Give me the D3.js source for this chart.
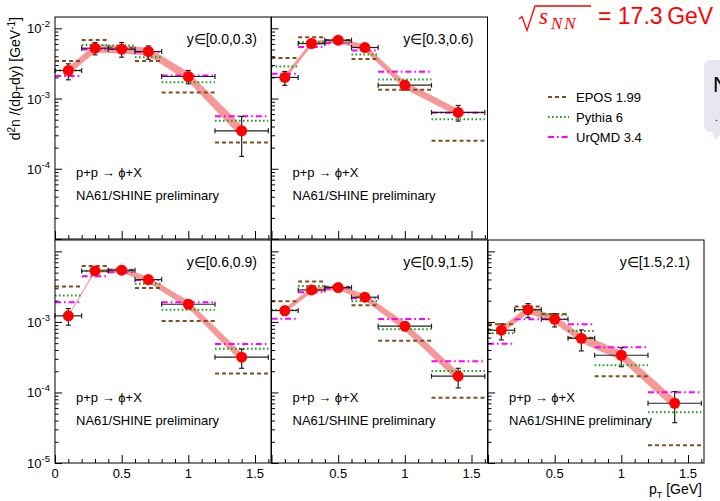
<!DOCTYPE html>
<html>
<head>
<meta charset="utf-8">
<script src="https://cdn.jsdelivr.net/npm/d3@7"></script>
<style>
body { margin: 0; background: #fff; }
text { font-family: "Liberation Sans", Arial, sans-serif; }
</style>
</head>
<body>
<svg id="chart" width="720" height="501"></svg>
<script>
// pT bins (GeV)
const ptCenters = [0.1, 0.3, 0.5, 0.7, 1.0, 1.4];
const binLow = [0.0, 0.2, 0.4, 0.6, 0.8, 1.2];
const binHigh = [0.2, 0.4, 0.6, 0.8, 1.2, 1.6];
const rapidityBins = ["y\u2208[0.0,0.3)", "y\u2208[0.3,0.6)", "y\u2208[0.6,0.9)", "y\u2208[0.9,1.5)", "y\u2208[1.5,2.1)"];

// NA61/SHINE points, one row per rapidity bin
const na61 = [
    [2.51e-3, 5.21e-3, 5.04e-3, 4.68e-3, 2.06e-3, 3.47e-4],
    [2.00e-3, 6.08e-3, 6.77e-3, 5.33e-3, 1.55e-3, 6.34e-4],
    [1.22e-3, 5.28e-3, 5.41e-3, 3.98e-3, 1.78e-3, 3.16e-4],
    [1.45e-3, 2.84e-3, 3.07e-3, 2.24e-3, 8.69e-4, 1.70e-4],
    [7.63e-4, 1.49e-3, 1.09e-3, 5.87e-4, 3.37e-4, 7.03e-5]
];
const na61Up = [
    [3.12e-3, 6.28e-3, 6.28e-3, 5.62e-3, 2.51e-3, 5.56e-4],
    [2.43e-3, 6.60e-3, 7.20e-3, 6.00e-3, 1.81e-3, 7.98e-4],
    [1.55e-3, 5.78e-3, 5.86e-3, 4.45e-3, 2.03e-3, 4.14e-4],
    [1.65e-3, 3.17e-3, 3.40e-3, 2.52e-3, 9.91e-4, 2.20e-4],
    [9.37e-4, 1.82e-3, 1.31e-3, 7.70e-4, 4.32e-4, 1.03e-4]
];
const na61Down = [
    [1.85e-3, 4.19e-3, 3.88e-3, 3.63e-3, 1.62e-3, 1.50e-4],
    [1.54e-3, 5.50e-3, 6.30e-3, 4.72e-3, 1.33e-3, 4.77e-4],
    [8.98e-4, 4.80e-3, 4.90e-3, 3.49e-3, 1.56e-3, 2.20e-4],
    [1.23e-3, 2.58e-3, 2.75e-3, 1.97e-3, 7.53e-4, 1.16e-4],
    [5.56e-4, 1.15e-3, 8.49e-4, 3.88e-4, 2.32e-4, 3.73e-5]
];
// relative systematic uncertainty (band)
const na61Sys = [
    [0.12, 0.13, 0.13, 0.13, 0.16, 0.20],
    [0.08, 0.08, 0.08, 0.10, 0.12, 0.12],
    [0.03, 0.04, 0.08, 0.10, 0.12, 0.15],
    [0.08, 0.08, 0.08, 0.10, 0.14, 0.16],
    [0.10, 0.12, 0.12, 0.14, 0.16, 0.18]
];

// model predictions per pT bin
const epos = [
    [3.44e-3, 6.84e-3, 5.30e-3, 3.44e-3, 1.22e-3, 2.37e-4],
    [3.79e-3, 7.47e-3, 6.84e-3, 3.67e-3, 1.33e-3, 2.50e-4],
    [3.17e-3, 6.22e-3, 5.50e-3, 3.03e-3, 1.03e-3, 1.85e-4],
    [1.97e-3, 3.73e-3, 3.15e-3, 1.73e-3, 5.43e-4, 8.44e-5],
    [9.27e-4, 1.65e-3, 1.30e-3, 5.98e-4, 1.70e-4, 1.78e-5]
];
const pythia = [
    [2.51e-3, 5.81e-3, 5.69e-3, 3.88e-3, 1.70e-3, 4.82e-4],
    [2.86e-3, 6.41e-3, 6.35e-3, 4.24e-3, 1.87e-3, 5.09e-4],
    [2.36e-3, 5.24e-3, 5.24e-3, 3.49e-3, 1.49e-3, 4.18e-4],
    [1.48e-3, 3.24e-3, 3.03e-3, 1.97e-3, 7.88e-4, 2.02e-4],
    [6.92e-4, 1.49e-3, 1.26e-3, 7.45e-4, 2.43e-4, 5.24e-5]
];
const urqmd = [
    [2.10e-3, 5.00e-3, 5.10e-3, 4.60e-3, 2.13e-3, 5.62e-4],
    [2.25e-3, 5.44e-3, 6.14e-3, 4.83e-3, 2.40e-3, 6.27e-4],
    [1.90e-3, 4.45e-3, 5.07e-3, 3.94e-3, 1.90e-3, 4.88e-4],
    [1.11e-3, 2.64e-3, 2.98e-3, 2.17e-3, 1.10e-3, 2.77e-4],
    [4.92e-4, 1.09e-3, 1.09e-3, 9.27e-4, 4.38e-4, 1.01e-4]
];

const models = [
    { name: "EPOS 1.99", values: epos, color: "#7f4f1f", dash: "4,3" },
    { name: "Pythia 6", values: pythia, color: "#1e9e1e", dash: "1.6,2.4" },
    { name: "UrQMD 3.4", values: urqmd, color: "#ff00ff", dash: "6,3,1.6,3" }
];

const yMajor = [1e-5, 1e-4, 1e-3, 1e-2];
const xMajor = [0, 0.5, 1, 1.5];

// layout
const panelW = 216;
const panels = [
    { x: 55, y: 17, h: 222, yLabels: [1e-4, 1e-3, 1e-2], xLabels: [] },
    { x: 271.5, y: 17, h: 222, yLabels: [], xLabels: [] },
    { x: 55, y: 240, h: 223, yLabels: [1e-5, 1e-4, 1e-3], xLabels: [0, 0.5, 1, 1.5] },
    { x: 271.5, y: 240, h: 223, yLabels: [], xLabels: [0.5, 1, 1.5] },
    { x: 488, y: 240, h: 223, yLabels: [], xLabels: [0.5, 1, 1.5] }
];

const svg = d3.select("#chart");

panels.forEach(function (p, i) {
    const g = svg.append("g").attr("transform", `translate(${p.x},${p.y})`);

    const x = d3.scaleLinear().domain([0, 1.62]).range([0, panelW]);
    const y = d3.scaleLog().domain([1e-5, 1.45e-2]).range([p.h, 0]);

    // systematic band
    const pts = ptCenters.map(function (pt, k) {
        return { pt: pt, v: na61[i][k], s: na61Sys[i][k] };
    });
    g.append("path")
        .datum(pts)
        .attr("fill", "#f59898")
        .attr("d", d3.area()
            .x(function (d) { return x(d.pt); })
            .y0(function (d) { return y(d.v * (1 - d.s)); })
            .y1(function (d) { return y(d.v * (1 + d.s)); }));

    // model histograms
    models.forEach(function (m) {
        g.selectAll(null)
            .data(m.values[i])
            .enter().append("line")
            .attr("x1", function (d, k) { return x(binLow[k]); })
            .attr("x2", function (d, k) { return x(binHigh[k]); })
            .attr("y1", function (d) { return y(d); })
            .attr("y2", function (d) { return y(d); })
            .attr("stroke", m.color)
            .attr("stroke-width", 2)
            .attr("stroke-dasharray", m.dash);
    });

    // error bars
    const eb = g.append("g").attr("stroke", "#222").attr("stroke-width", 1.2);
    ptCenters.forEach(function (pt, k) {
        const yv = y(na61[i][k]);
        const x1 = x(binLow[k]), x2 = x(binHigh[k]), xc = x(pt);
        const yu = y(na61Up[i][k]), yd = y(na61Down[i][k]);
        eb.append("line").attr("x1", x1).attr("x2", x2).attr("y1", yv).attr("y2", yv);
        eb.append("line").attr("x1", x1).attr("x2", x1).attr("y1", yv - 2.5).attr("y2", yv + 2.5);
        eb.append("line").attr("x1", x2).attr("x2", x2).attr("y1", yv - 2.5).attr("y2", yv + 2.5);
        eb.append("line").attr("x1", xc).attr("x2", xc).attr("y1", yu).attr("y2", yd);
        eb.append("line").attr("x1", xc - 2.5).attr("x2", xc + 2.5).attr("y1", yu).attr("y2", yu);
        eb.append("line").attr("x1", xc - 2.5).attr("x2", xc + 2.5).attr("y1", yd).attr("y2", yd);
    });

    // markers
    g.selectAll(null)
        .data(na61[i])
        .enter().append("circle")
        .attr("cx", function (d, k) { return x(ptCenters[k]); })
        .attr("cy", function (d) { return y(d); })
        .attr("r", 5.5)
        .attr("fill", "#ff0000");

    // frame
    g.append("rect")
        .attr("width", panelW).attr("height", p.h)
        .attr("fill", "none").attr("stroke", "#000").attr("stroke-width", 1);

    // y ticks (inside)
    const yMinor = y.ticks().filter(function (t) { return yMajor.indexOf(t) < 0; });
    g.append("g").call(d3.axisLeft(y).tickValues(yMajor).tickSize(-7).tickFormat(""))
        .call(function (a) { a.select(".domain").remove(); });
    g.append("g").call(d3.axisLeft(y).tickValues(yMinor).tickSize(-3.5).tickFormat(""))
        .call(function (a) { a.select(".domain").remove(); });

    // x ticks (inside, from bottom)
    const xMinor = d3.range(0.1, 1.62, 0.1).filter(function (t) {
        return xMajor.every(function (m) { return Math.abs(m - t) > 1e-6; });
    });
    const xAxisG = g.append("g").attr("transform", `translate(0,${p.h})`);
    xAxisG.append("g").call(d3.axisBottom(x).tickValues(xMajor).tickSize(-8).tickFormat(""))
        .call(function (a) { a.select(".domain").remove(); });
    xAxisG.append("g").call(d3.axisBottom(x).tickValues(xMinor).tickSize(-4).tickFormat(""))
        .call(function (a) { a.select(".domain").remove(); });
    svg.selectAll(".tick line").attr("stroke", "#000");

    // x tick labels
    p.xLabels.forEach(function (t) {
        g.append("text")
            .attr("x", x(t)).attr("y", p.h + 15)
            .attr("text-anchor", "middle")
            .attr("font-size", "13px")
            .text(String(t));
    });

    // y tick labels as 10^n
    p.yLabels.forEach(function (t) {
        const e = Math.round(Math.log10(t));
        const txt = g.append("text")
            .attr("x", -5).attr("y", y(t) + 5)
            .attr("text-anchor", "end")
            .attr("font-size", "13px");
        txt.append("tspan").text("10");
        txt.append("tspan").attr("dy", -6).attr("font-size", "9.5px").text(String(e));
    });

    // labels inside
    g.append("text")
        .attr("x", panelW - 14).attr("y", 27)
        .attr("text-anchor", "end")
        .attr("font-size", "14px")
        .text(rapidityBins[i]);
    g.append("text")
        .attr("x", 21).attr("y", p.h === 222 ? 160 : 162)
        .attr("font-size", "13px")
        .text("p+p \u2192 \u03d5+X");
    g.append("text")
        .attr("x", 21).attr("y", p.h === 222 ? 183 : 185)
        .attr("font-size", "13px")
        .text("NA61/SHINE preliminary");
});

// y-axis title
const yTitle = svg.append("text")
    .attr("transform", "translate(20,17) rotate(-90)")
    .attr("text-anchor", "end")
    .attr("font-size", "14px");
yTitle.append("tspan").text("d");
yTitle.append("tspan").attr("dy", -5).attr("font-size", "10px").text("2");
yTitle.append("tspan").attr("dy", 5).text("n /(dp");
yTitle.append("tspan").attr("dy", 4).attr("font-size", "10px").text("T");
yTitle.append("tspan").attr("dy", -4).text("dy)  [GeV");
yTitle.append("tspan").attr("dy", -5).attr("font-size", "10px").text("-1");
yTitle.append("tspan").attr("dy", 5).text("]");

// x-axis title
const xTitle = svg.append("text")
    .attr("x", 702).attr("y", 494)
    .attr("text-anchor", "end")
    .attr("font-size", "14px");
xTitle.append("tspan").text("p");
xTitle.append("tspan").attr("dy", 4).attr("font-size", "9px").text("T");
xTitle.append("tspan").attr("dy", -4).text(" [GeV]");

// legend
models.forEach(function (m, k) {
    const ly = 97 + k * 20;
    svg.append("line")
        .attr("x1", 548).attr("x2", 569).attr("y1", ly).attr("y2", ly)
        .attr("stroke", m.color).attr("stroke-width", 2).attr("stroke-dasharray", m.dash);
    svg.append("text")
        .attr("x", 576).attr("y", ly + 4.5)
        .attr("font-size", "13px")
        .text(m.name);
});

// energy label
svg.append("path")
    .attr("d", "M519,19 L522,16.5 L527,30.5 L535,6 L591,6")
    .attr("fill", "none").attr("stroke", "#ff0000").attr("stroke-width", 1.3);
const sq = svg.append("text").attr("x", 539).attr("y", 24).attr("fill", "#ff0000");
sq.append("tspan").attr("font-family", "'Liberation Serif', serif").attr("font-style", "italic")
    .attr("font-size", "23px").text("s");
sq.append("tspan").attr("font-family", "'Liberation Serif', serif").attr("font-style", "italic")
    .attr("font-size", "17px").attr("dx", 3).attr("dy", 5).attr("letter-spacing", "2px").text("NN");
svg.append("text")
    .attr("x", 598).attr("y", 24)
    .attr("fill", "#ff0000")
    .attr("font-size", "23px")
    .text("= 17.3\u2009GeV");

// callout box partly outside the picture at the right edge
svg.append("rect")
    .attr("x", 704).attr("y", 60).attr("width", 40).attr("height", 72).attr("rx", 6)
    .attr("fill", "#e7e7f1");
svg.append("path").attr("d", "M712,131 L716,141 L722,131 Z").attr("fill", "#e7e7f1");
svg.append("text").attr("x", 713).attr("y", 92).attr("font-size", "22px").text("N");
svg.append("text").attr("x", 715).attr("y", 121).attr("font-size", "10px").text(".");
</script>
</body>
</html>
